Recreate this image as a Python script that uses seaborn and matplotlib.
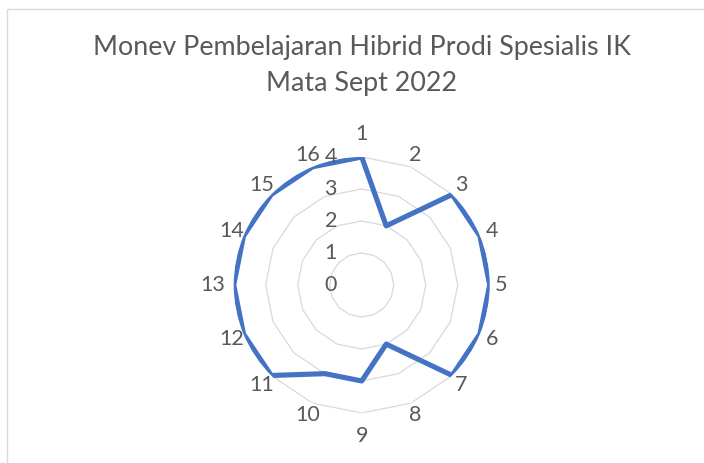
import numpy as np
import pandas as pd
import seaborn as sns
import matplotlib.pyplot as plt
from matplotlib.patches import Rectangle
from matplotlib.transforms import offset_copy

# Datos
categorias = [str(i) for i in range(1, 17)]
valores = [4, 2, 4, 4, 4, 4, 4, 2, 3, 3, 4, 4, 4, 4, 4, 4]
niveles = [0, 1, 2, 3, 4]
titulo = 'Monev Pembelajaran Hibrid Prodi Spesialis IK\nMata Sept 2022'

sns.set_theme(style='white')
plt.rcParams['font.family'] = ['Lato', 'DejaVu Sans']

gris_texto = '#595959'
azul = '#4472C4'

fig = plt.figure(figsize=(7.04, 4.63), dpi=100)

# Marco del grafico (estilo Excel)
fig.patches.append(Rectangle((7 / 704, -0.05), 1.0, 1 - 9 / 463 + 0.05,
                             transform=fig.transFigure, fill=False,
                             edgecolor='#D9D9D9', linewidth=1.0))

ax = fig.add_axes([0.332, 0.108, 0.3636, 0.553], projection='polar')
ax.set_theta_zero_location('N')
ax.set_theta_direction(-1)

n = len(categorias)
angulos = np.arange(n) * 2 * np.pi / n
ang_cerrado = np.append(angulos, 2 * np.pi)

# Reticula poligonal
for nivel in niveles[1:]:
    ax.plot(ang_cerrado, [nivel] * (n + 1), color='#D9D9D9', linewidth=0.9, zorder=1)

df = pd.DataFrame({'angulo': ang_cerrado, 'valor': valores + [valores[0]]})
sns.lineplot(data=df, x='angulo', y='valor', ax=ax, sort=False, estimator=None,
             color=azul, linewidth=3.7, zorder=3)
for l in ax.lines:
    l.set_solid_joinstyle('round')

ax.set_ylim(0, max(niveles))
ax.grid(False)
ax.spines['polar'].set_visible(False)
ax.set_xticks([])
ax.set_yticks([])
ax.set_xlabel('')
ax.set_ylabel('')
ax.patch.set_alpha(0)

# Etiquetas de categorias
for a, cat in zip(angulos, categorias):
    s, c = np.sin(a), np.cos(a)
    if abs(c) > 0.99:
        r = 4.72
    elif abs(s) > 0.99:
        r = 4.35 + 0.3 * (len(cat) - 1)
    else:
        r = 4.4
    ax.text(a, r, cat, ha='center', va='center', fontsize=15.5, color=gris_texto)

# Etiquetas de niveles
trans = offset_copy(ax.transData, fig=fig, x=-31, y=0, units='dots')
for nivel in niveles:
    ax.text(0, nivel, str(nivel), transform=trans, ha='center', va='center',
            fontsize=15.5, color=gris_texto)

fig.text(362 / 704, 1 - 66 / 463, titulo, ha='center', va='center',
         fontsize=19.4, color=gris_texto, linespacing=1.55)

fig.savefig('out.png', dpi=100)
